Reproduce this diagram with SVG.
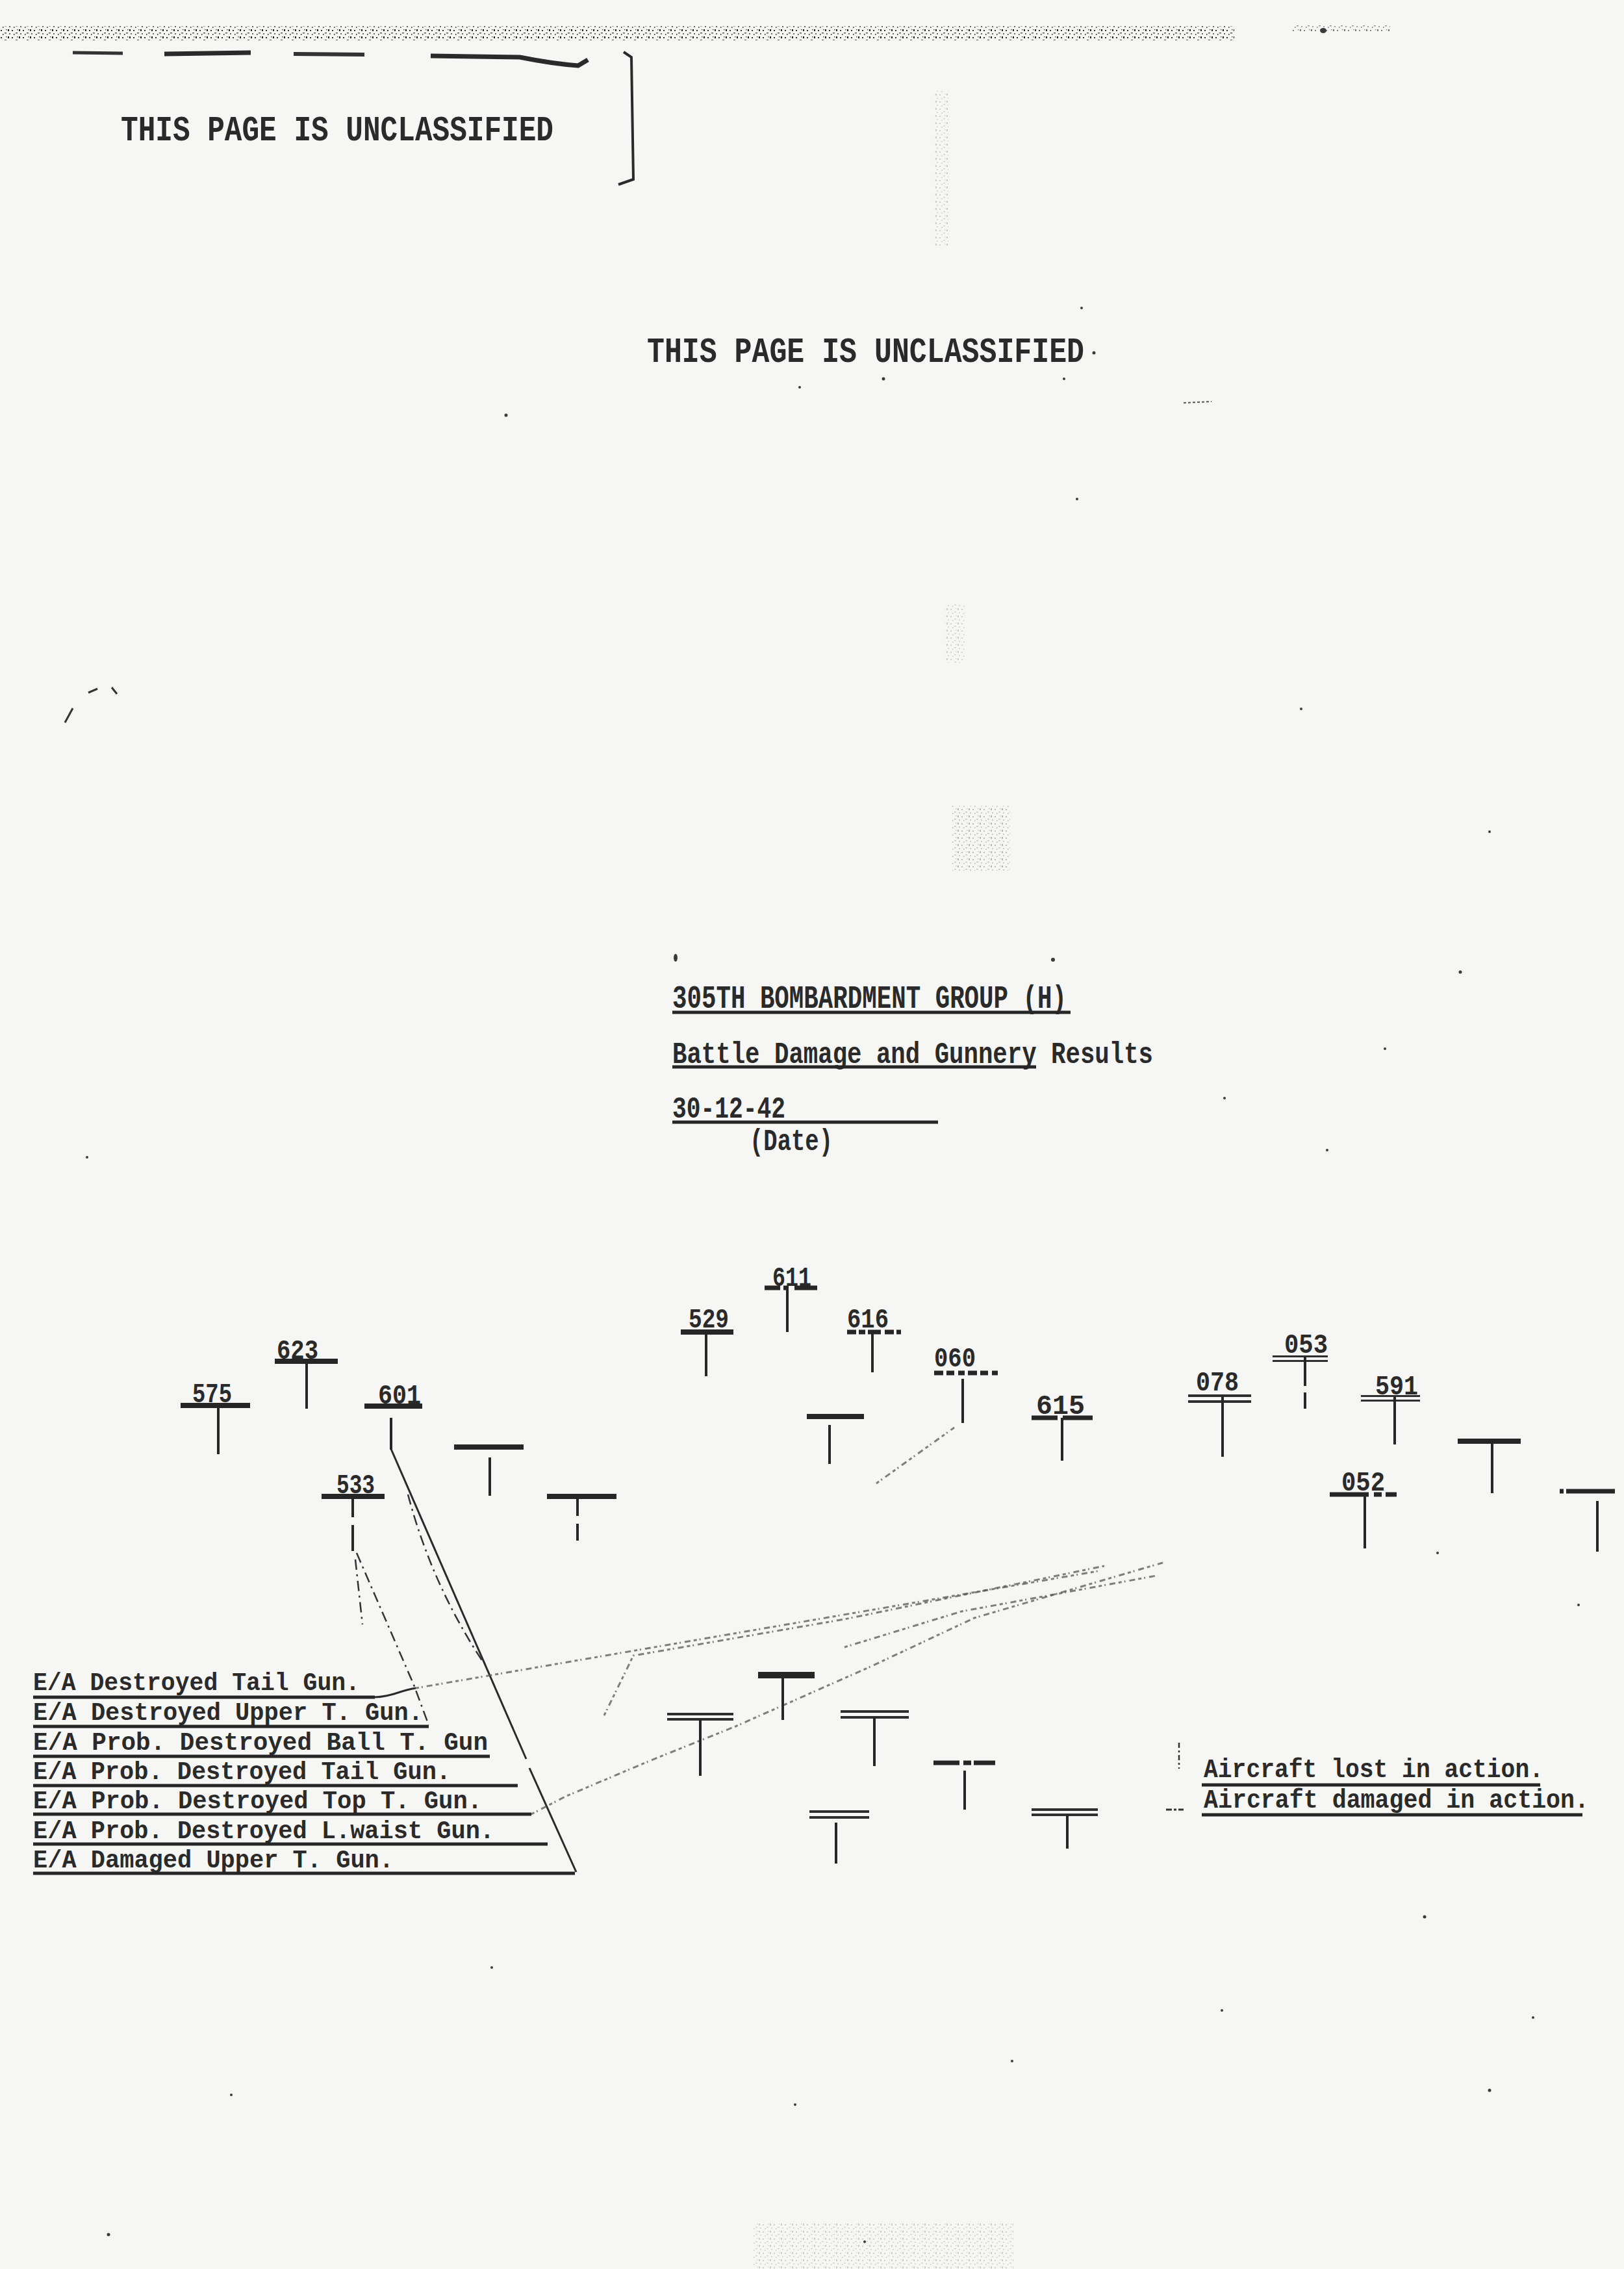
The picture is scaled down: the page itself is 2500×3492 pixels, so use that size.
<svg xmlns="http://www.w3.org/2000/svg" width="2500" height="3492" viewBox="0 0 2500 3492">
<defs>
<style>
.t{font-family:"Liberation Mono","DejaVu Sans Mono",monospace;font-weight:bold;fill:#2a2a2a}
.hdr{font-size:54px}
.ttl{font-size:50px}
.sub{font-size:46px}
.lg{font-size:38px}
.lg2{font-size:40px}
.num{font-size:42px}
.bar{fill:#262626}
.bar2{fill:#2e2e2e}
.dbar{stroke:#262626;stroke-width:7;fill:none}
.stem{stroke:#262626;stroke-width:4;fill:none}
.ul{stroke:#262626;stroke-width:5;fill:none}
.solid{stroke:#2a2a2a;stroke-width:3;fill:none}
.dash{stroke:#333;stroke-width:2.5;stroke-dasharray:16 7 3 7;fill:none}
.faint{stroke:#555;stroke-width:3;stroke-dasharray:5 4 2 6 9 5;fill:none;opacity:.75}
.speck{fill:#3a3a3a}
</style>
<pattern id="grain" width="17" height="11" patternUnits="userSpaceOnUse">
<rect x="1" y="2" width="2" height="2" fill="#333"/>
<rect x="7" y="6" width="3" height="1.5" fill="#555"/>
<rect x="12" y="1" width="2" height="3" fill="#222"/>
<rect x="4" y="8" width="1.5" height="2" fill="#444"/>
<rect x="14" y="7" width="2" height="2" fill="#666"/>
<rect x="9" y="1" width="1.5" height="1.5" fill="#555"/>
</pattern>
</defs>
<rect width="2500" height="3492" fill="#f6f6f4"/>

<g id="header-noise">
<rect x="0" y="40" width="1900" height="22" fill="url(#grain)"/>
<rect x="1990" y="38" width="150" height="10" fill="url(#grain)" opacity="0.6"/>
<rect x="1438" y="140" width="22" height="240" fill="url(#grain)" opacity="0.2"/>
<rect x="1455" y="930" width="30" height="90" fill="url(#grain)" opacity="0.2"/>
<rect x="1465" y="1240" width="90" height="100" fill="url(#grain)" opacity="0.3"/>
<rect x="1160" y="3420" width="400" height="72" fill="url(#grain)" opacity="0.2"/>
<path d="M112 81 L189 82" stroke="#333" stroke-width="5"/>
<path d="M253 83 L386 81" stroke="#2a2a2a" stroke-width="7"/>
<path d="M452 83 L561 84" stroke="#333" stroke-width="6"/>
<path d="M663 86 L800 88 Q850 98 890 101 L905 92" stroke="#2a2a2a" stroke-width="7" fill="none"/>
<path d="M960 80 L972 88 L975 276 L952 284" stroke="#2a2a2a" stroke-width="4" fill="none"/>
<ellipse cx="2037" cy="47" rx="5" ry="4" class="speck"/>
</g>

<g id="header-1"><text class="t hdr" x="186" y="216" textLength="666" lengthAdjust="spacingAndGlyphs">THIS PAGE IS UNCLASSIFIED</text></g>
<g id="header-2"><text class="t hdr" x="996" y="557" textLength="673" lengthAdjust="spacingAndGlyphs">THIS PAGE IS UNCLASSIFIED</text></g>

<g id="title">
<text class="t ttl" x="1035" y="1551" textLength="607" lengthAdjust="spacingAndGlyphs">305TH BOMBARDMENT GROUP (H)</text>
<line class="ul" x1="1035" y1="1558" x2="1648" y2="1558"/>
<text class="t sub" x="1035" y="1636" textLength="740" lengthAdjust="spacingAndGlyphs">Battle Damage and Gunnery Results</text>
<line class="ul" x1="1035" y1="1642" x2="1595" y2="1642"/>
<text class="t sub" x="1035" y="1720" textLength="174" lengthAdjust="spacingAndGlyphs">30-12-42</text>
<line class="ul" x1="1035" y1="1727" x2="1444" y2="1727"/>
<text class="t sub" x="1154" y="1770" textLength="128" lengthAdjust="spacingAndGlyphs">(Date)</text>
</g>

<g id="connectors">
<path class="solid" d="M602 2230 L810 2707"/>
<path class="solid" d="M815 2721 L887 2881"/>
<path class="dash" d="M628 2300 Q665 2440 745 2560"/>
<path class="dash" d="M547 2400 L558 2500"/>
<path class="dash" d="M549 2390 L637 2593 L660 2655"/>
<path class="solid" d="M576 2612 C600 2612 615 2602 640 2598"/>
<path class="faint" d="M640 2598 L1690 2418"/>
<path class="faint" d="M818 2792 L870 2765 L1000 2710 L1132 2657 L1340 2565 L1500 2490 L1790 2405"/>
<path class="faint" d="M930 2640 L975 2548 L1300 2492 L1700 2410"/>
<path class="faint" d="M1300 2535 L1480 2480 L1780 2425"/>
<path class="faint" d="M1349 2283 L1469 2197"/>
</g>

<g id="ac-575"><text class="t num" x="296" y="2158" textLength="61" lengthAdjust="spacingAndGlyphs">575</text><rect class="bar" x="278" y="2159" width="107" height="8"/><line class="stem" x1="336" y1="2163" x2="336" y2="2238"/></g>
<g id="ac-623"><text class="t num" x="426" y="2091" textLength="64" lengthAdjust="spacingAndGlyphs">623</text><rect class="bar" x="423" y="2091" width="97" height="8"/><line class="stem" x1="472" y1="2095" x2="472" y2="2168"/></g>
<g id="ac-601"><text class="t num" x="582" y="2160" textLength="66" lengthAdjust="spacingAndGlyphs">601</text><rect class="bar" x="561" y="2160" width="89" height="8"/><line class="stem" x1="602" y1="2182" x2="602" y2="2231"/></g>
<g id="ac-533"><text class="t num" x="518" y="2298" textLength="59" lengthAdjust="spacingAndGlyphs">533</text><rect class="bar" x="495" y="2299" width="97" height="8"/><line class="stem" x1="543" y1="2303" x2="543" y2="2335"/><line class="stem" x1="543" y1="2347" x2="543" y2="2387"/></g>
<g id="ac-u1"><rect class="bar" x="699" y="2223" width="107" height="8"/><line class="stem" x1="754" y1="2243" x2="754" y2="2302"/></g>
<g id="ac-u2"><rect class="bar" x="842" y="2299" width="107" height="8"/><line class="stem" x1="889" y1="2303" x2="889" y2="2333"/><line class="stem" x1="889" y1="2345" x2="889" y2="2371"/></g>
<g id="ac-529"><text class="t num" x="1060" y="2043" textLength="62" lengthAdjust="spacingAndGlyphs">529</text><rect class="bar" x="1048" y="2046" width="81" height="8"/><line class="stem" x1="1087" y1="2050" x2="1087" y2="2118"/></g>
<g id="ac-611"><text class="t num" x="1189" y="1979" textLength="60" lengthAdjust="spacingAndGlyphs">611</text><line class="dbar" x1="1177" y1="1982" x2="1258" y2="1982" stroke-width="6" stroke-dasharray="24 5 8 9 36"/><line class="stem" x1="1212" y1="1982" x2="1212" y2="2050"/></g>
<g id="ac-616"><text class="t num" x="1304" y="2043" textLength="64" lengthAdjust="spacingAndGlyphs">616</text><line class="dbar" x1="1304" y1="2050" x2="1387" y2="2050" stroke-width="5" stroke-dasharray="14 4 10 4 20 6"/><line class="stem" x1="1343" y1="2050" x2="1343" y2="2112"/></g>
<g id="ac-060"><text class="t num" x="1438" y="2103" textLength="64" lengthAdjust="spacingAndGlyphs">060</text><line class="dbar" x1="1438" y1="2113" x2="1536" y2="2113" stroke-width="4" stroke-dasharray="14 5 12 6 10 5"/><line class="stem" x1="1482" y1="2122" x2="1482" y2="2190"/></g>
<g id="ac-615"><text class="t num" x="1595" y="2176" textLength="75" lengthAdjust="spacingAndGlyphs">615</text><line class="dbar" x1="1588" y1="2182" x2="1682" y2="2182" stroke-width="5" stroke-dasharray="40 8 46"/><line class="stem" x1="1635" y1="2182" x2="1635" y2="2248"/></g>
<g id="ac-u3"><rect class="bar" x="1242" y="2176" width="88" height="8"/><line class="stem" x1="1277" y1="2193" x2="1277" y2="2253"/></g>
<g id="ac-078"><text class="t num" x="1841" y="2140" textLength="66" lengthAdjust="spacingAndGlyphs">078</text><rect class="bar2" x="1829" y="2146" width="97" height="4"/><rect class="bar2" x="1829" y="2155" width="97" height="4"/><line class="stem" x1="1882" y1="2150" x2="1882" y2="2242"/></g>
<g id="ac-053"><text class="t num" x="1977" y="2082" textLength="67" lengthAdjust="spacingAndGlyphs">053</text><rect class="bar2" x="1959" y="2086" width="85" height="3"/><rect class="bar2" x="1959" y="2093" width="85" height="3"/><line class="stem" x1="2009" y1="2088" x2="2009" y2="2133"/><line class="stem" x1="2009" y1="2143" x2="2009" y2="2168"/></g>
<g id="ac-591"><text class="t num" x="2117" y="2146" textLength="66" lengthAdjust="spacingAndGlyphs">591</text><rect class="bar2" x="2095" y="2147" width="91" height="3"/><rect class="bar2" x="2095" y="2154" width="91" height="3"/><line class="stem" x1="2147" y1="2150" x2="2147" y2="2223"/></g>
<g id="ac-052"><text class="t num" x="2065" y="2294" textLength="67" lengthAdjust="spacingAndGlyphs">052</text><line class="dbar" x1="2047" y1="2300" x2="2150" y2="2300" stroke-width="6" stroke-dasharray="60 8 12 6 30"/><line class="stem" x1="2101" y1="2300" x2="2101" y2="2383"/></g>
<g id="ac-u4"><rect class="bar" x="2244" y="2214" width="97" height="8"/><line class="stem" x1="2297" y1="2218" x2="2297" y2="2298"/></g>
<g id="ac-u5"><line class="dbar" x1="2401" y1="2295" x2="2486" y2="2295" stroke-width="5" stroke-dasharray="6 4 75"/><line class="stem" x1="2459" y1="2310" x2="2459" y2="2388"/></g>

<g id="ac-lower-a"><rect class="bar" x="1167" y="2573" width="87" height="10"/><line class="stem" x1="1205" y1="2583" x2="1205" y2="2647"/></g>
<g id="ac-lower-b"><rect class="bar2" x="1027" y="2636" width="102" height="4"/><rect class="bar2" x="1027" y="2644" width="102" height="4"/><line class="stem" x1="1078" y1="2646" x2="1078" y2="2733"/></g>
<g id="ac-lower-c"><rect class="bar2" x="1294" y="2632" width="105" height="4"/><rect class="bar2" x="1294" y="2641" width="105" height="4"/><line class="stem" x1="1346" y1="2643" x2="1346" y2="2718"/></g>
<g id="ac-lower-d"><line class="dbar" x1="1437" y1="2713" x2="1532" y2="2713" stroke-width="7" stroke-dasharray="40 6 12 4 33"/><line class="stem" x1="1485" y1="2725" x2="1485" y2="2785"/></g>
<g id="ac-lower-e"><rect class="bar2" x="1246" y="2786" width="92" height="4"/><rect class="bar2" x="1246" y="2795" width="92" height="4"/><line class="stem" x1="1287" y1="2805" x2="1287" y2="2868"/></g>
<g id="ac-lower-f"><rect class="bar2" x="1588" y="2783" width="102" height="4"/><rect class="bar2" x="1588" y="2791" width="102" height="4"/><line class="stem" x1="1643" y1="2793" x2="1643" y2="2845"/></g>

<g id="legend-gunnery">
<text class="t lg" x="51" y="2601" textLength="503" lengthAdjust="spacingAndGlyphs">E/A Destroyed Tail Gun.</text>
<line class="ul" x1="51" y1="2612" x2="577" y2="2612"/>
<text class="t lg" x="51" y="2647" textLength="600" lengthAdjust="spacingAndGlyphs">E/A Destroyed Upper T. Gun.</text>
<line class="ul" x1="51" y1="2657" x2="660" y2="2657"/>
<text class="t lg" x="51" y="2693" textLength="700" lengthAdjust="spacingAndGlyphs">E/A Prob. Destroyed Ball T. Gun</text>
<line class="ul" x1="51" y1="2703" x2="754" y2="2703"/>
<text class="t lg" x="51" y="2738" textLength="643" lengthAdjust="spacingAndGlyphs">E/A Prob. Destroyed Tail Gun.</text>
<line class="ul" x1="51" y1="2748" x2="797" y2="2748"/>
<text class="t lg" x="51" y="2783" textLength="691" lengthAdjust="spacingAndGlyphs">E/A Prob. Destroyed Top T. Gun.</text>
<line class="ul" x1="51" y1="2792" x2="818" y2="2792"/>
<text class="t lg" x="51" y="2829" textLength="710" lengthAdjust="spacingAndGlyphs">E/A Prob. Destroyed L.waist Gun.</text>
<line class="ul" x1="51" y1="2838" x2="843" y2="2838"/>
<text class="t lg" x="51" y="2874" textLength="555" lengthAdjust="spacingAndGlyphs">E/A Damaged Upper T. Gun.</text>
<line class="ul" x1="51" y1="2883" x2="885" y2="2883"/>
</g>

<g id="legend-aircraft">
<line x1="1815" y1="2682" x2="1815" y2="2722" stroke="#333" stroke-width="2.5" stroke-dasharray="8 4 3 4"/>
<text class="t lg2" x="1853" y="2735" textLength="523" lengthAdjust="spacingAndGlyphs">Aircraft lost in action.</text>
<line class="ul" x1="1850" y1="2747" x2="2371" y2="2747"/>
<line x1="1795" y1="2785" x2="1822" y2="2785" stroke="#333" stroke-width="3" stroke-dasharray="9 3 4 3"/>
<text class="t lg2" x="1853" y="2782" textLength="593" lengthAdjust="spacingAndGlyphs">Aircraft damaged in action.</text>
<line class="ul" x1="1850" y1="2793" x2="2436" y2="2793"/>
</g>

<g id="specks">
<ellipse class="speck" cx="1040" cy="1474" rx="3" ry="6"/>
<circle class="speck" cx="1621" cy="1477" r="3"/>
<circle class="speck" cx="2248" cy="1496" r="2.5"/>
<circle class="speck" cx="2132" cy="1614" r="2"/>
<circle class="speck" cx="2043" cy="1770" r="2"/>
<circle class="speck" cx="134" cy="1781" r="2"/>
<circle class="speck" cx="779" cy="639" r="2.5"/>
<circle class="speck" cx="1658" cy="768" r="2"/>
<circle class="speck" cx="2003" cy="1091" r="2"/>
<circle class="speck" cx="2293" cy="1280" r="2"/>
<circle class="speck" cx="1885" cy="1690" r="2"/>
<circle class="speck" cx="2193" cy="2950" r="2.5"/>
<circle class="speck" cx="2293" cy="3217" r="2.5"/>
<circle class="speck" cx="2360" cy="3105" r="2"/>
<circle class="speck" cx="1881" cy="3094" r="2"/>
<circle class="speck" cx="167" cy="3439" r="2.5"/>
<circle class="speck" cx="356" cy="3224" r="2"/>
<circle class="speck" cx="757" cy="3028" r="2"/>
<circle class="speck" cx="1224" cy="3239" r="2"/>
<circle class="speck" cx="1558" cy="3172" r="2"/>
<circle class="speck" cx="2213" cy="2390" r="2"/>
<circle class="speck" cx="2430" cy="2470" r="2"/>
<circle class="speck" cx="1331" cy="3450" r="2"/>
<circle class="speck" cx="1684" cy="543" r="2.5"/>
<circle class="speck" cx="1360" cy="583" r="2.5"/>
<circle class="speck" cx="1638" cy="583" r="2"/>
<circle class="speck" cx="1231" cy="596" r="2"/>
<circle class="speck" cx="1665" cy="474" r="2"/>
<path d="M100 1112 L112 1090 M136 1066 L150 1060 M172 1058 L180 1068" stroke="#333" stroke-width="3" fill="none"/>
<path d="M1822 620 L1865 618" stroke="#555" stroke-width="2" stroke-dasharray="4 3"/>
</g>
</svg>
